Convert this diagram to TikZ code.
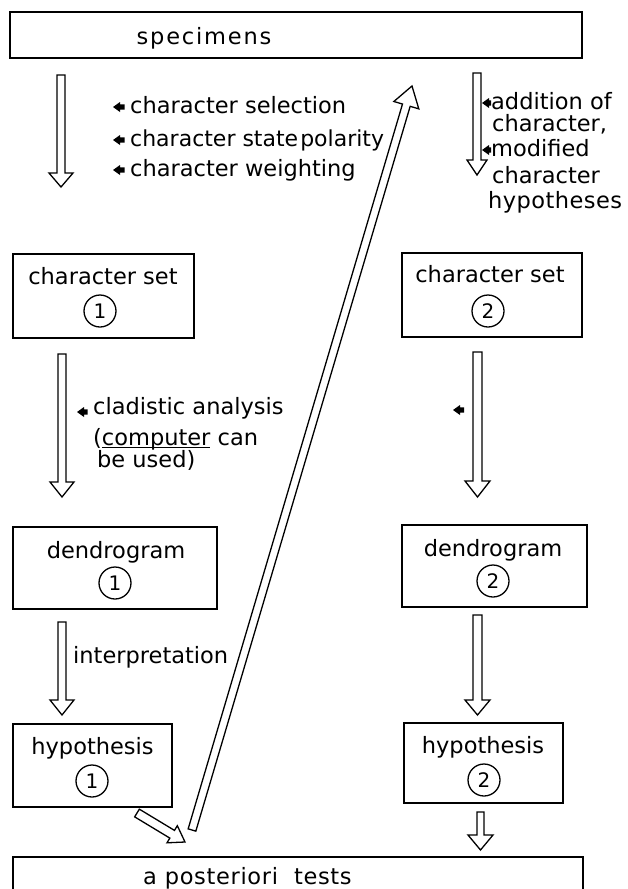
\documentclass[tikz,border=0pt]{standalone}
\usepackage{fontspec}
\setmainfont{DejaVu Sans}
\usetikzlibrary{calc}
\newcommand\hollowarrow[5]{%
  \coordinate (#1h) at ($(#2)!#5pt!(#1)$);
  \draw[harrow] ($(#1)!#3pt!90:(#2)$) -- ($(#1h)!#3pt!90:(#2)$) -- ($(#1h)!#4pt!90:(#2)$) -- (#2)
    -- ($(#1h)!#4pt!-90:(#2)$) -- ($(#1h)!#3pt!-90:(#2)$) -- ($(#1)!#3pt!-90:(#2)$) -- cycle;}
\newcommand\pointer[3]{\fill[black] (#1,#2) -- ++(7,-5) -- ++(0,2.3) -- ++(#3,0) -- ++(0,5.4) -- ++(-#3,0) -- ++(0,2.3) -- cycle;}
\newcommand\myuline[1]{\sbox0{#1}\rlap{\rule[-3pt]{\wd0}{1.3pt}}\usebox0}
\begin{document}
\begin{tikzpicture}[x=1pt,y=-1pt,
  box/.style={draw, line width=1.5pt, inner sep=0pt},
  txt/.style={inner sep=0pt, font=\fontsize{22.5}{27}\selectfont},
  num/.style={draw, circle, line width=1.3pt, minimum size=32pt, inner sep=0pt, font=\fontsize{20}{24}\selectfont},
  harrow/.style={draw=black, line width=1.3pt, fill=white, line join=miter}]
\fill[white] (0,0) rectangle (627,889);
\useasboundingbox (0,0) rectangle (627,889);

% boxes
\node[box, minimum width=572pt, minimum height=46pt] (spec) at (296,35) {};
\node[box, minimum width=181pt, minimum height=84pt] (cs1) at (103.5,296) {};
\node[box, minimum width=180pt, minimum height=84pt] (cs2) at (492,295) {};
\node[box, minimum width=204pt, minimum height=82pt] (dg1) at (115,568) {};
\node[box, minimum width=185pt, minimum height=82pt] (dg2) at (494.5,566) {};
\node[box, minimum width=159pt, minimum height=83pt] (hy1) at (92.5,765.5) {};
\node[box, minimum width=159pt, minimum height=80pt] (hy2) at (483.5,763) {};
\node[box, minimum width=570pt, minimum height=48pt] (tests) at (298,881) {};

% box texts
\node[txt, anchor=base] (spect) at (204,44) {\addfontfeature{LetterSpace=8}specimens};
\node[txt, anchor=base] (cs1t) at (103,284) {character set};
\node[num] (cs1n) at (100,311) {1};
\node[txt, anchor=base] (cs2t) at (490,282) {character set};
\node[num] (cs2n) at (488,311) {2};
\node[txt, anchor=base] (dg1t) at (116,558) {dendrogram};
\node[num] (dg1n) at (115,583) {1};
\node[txt, anchor=base] (dg2t) at (493,556) {dendrogram};
\node[num] (dg2n) at (493,581) {2};
\node[txt, anchor=base] (hy1t) at (92.5,754) {hypothesis};
\node[num] (hy1n) at (92,781) {1};
\node[txt, anchor=base] (hy2t) at (483,753) {hypothesis};
\node[num] (hy2n) at (484,780) {2};
\node[txt, anchor=base west] (testst) at (143,884) {\addfontfeature{LetterSpace=3}a posteriori\hspace{16pt}tests};

% side labels
\node[txt, anchor=base west] (l1) at (130,113) {character selection};
\node[txt, anchor=base west, font=\fontsize{22}{26}\selectfont] (l2) at (130,146) {character\ state\hspace{2pt}polarity};
\node[txt, anchor=base west] (l3) at (130,176) {character weighting};
\pointer{113}{107}{4.5}
\pointer{113}{140}{4.5}
\pointer{113}{170}{4.5}

\node[txt, anchor=base west] (r1) at (491,109) {addition of};
\node[txt, anchor=base west] (r2) at (492,131) {character,};
\node[txt, anchor=base west] (r3) at (491,156) {modified};
\node[txt, anchor=base west] (r4) at (492,183) {character};
\node[txt, anchor=base west] (r5) at (488,208) {\addfontfeature{LetterSpace=2}hypotheses};
\pointer{482}{103}{2}
\pointer{482}{150}{2}

\node[txt, anchor=base west] (c1) at (93,414) {cladistic analysis};
\node[txt, anchor=base west] (c2) at (93,445) {(\myuline{computer} can};
\node[txt, anchor=base west] (c3) at (97,467) {be used)};
\pointer{77}{412}{3.5}
\pointer{453}{410}{4}

\node[txt, anchor=base west] (interp) at (73,663) {interpretation};

% arrow end points
\coordinate (a1) at (61,75);   \coordinate (a1e) at (61,187);
\coordinate (a2) at (477,73);  \coordinate (a2e) at (477,175);
\coordinate (a3) at (62,354);  \coordinate (a3e) at (62,497);
\coordinate (a4) at (477.5,352); \coordinate (a4e) at (477.5,497);
\coordinate (a5) at (62,622);  \coordinate (a5e) at (62,715);
\coordinate (a6) at (477.5,615); \coordinate (a6e) at (477.5,715);
\coordinate (a7) at (480.5,812); \coordinate (a7e) at (480.5,850);
\coordinate (a8) at (137,813); \coordinate (a8e) at (185,842);
\coordinate (a9) at (192,830); \coordinate (a9e) at (412,86);

\hollowarrow{a1}{a1e}{4}{12}{14}
\hollowarrow{a2}{a2e}{4}{10}{15}
\hollowarrow{a3}{a3e}{4}{12}{15}
\hollowarrow{a4}{a4e}{4.5}{12.5}{16}
\hollowarrow{a5}{a5e}{4}{12}{15}
\hollowarrow{a6}{a6e}{4.5}{12.5}{15}
\hollowarrow{a7}{a7e}{3.5}{12.5}{15}
\hollowarrow{a8}{a8e}{4.5}{10}{15}
\hollowarrow{a9}{a9e}{4}{13}{20}
\end{tikzpicture}
\end{document}
